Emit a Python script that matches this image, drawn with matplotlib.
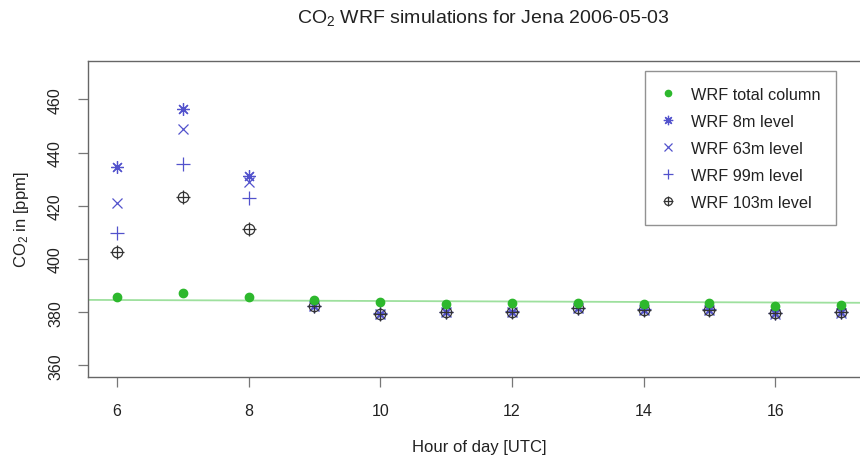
import matplotlib
matplotlib.use("Agg")
import matplotlib.pyplot as plt
from matplotlib.legend_handler import HandlerTuple

plt.rcParams["font.family"] = ["Liberation Sans", "DejaVu Sans"]
plt.rcParams["mathtext.default"] = "regular"

hours = [6, 7, 8, 9, 10, 11, 12, 13, 14, 15, 16, 17]
total_column = [385.8, 387.1, 385.8, 384.6, 383.9, 383.1, 383.3, 383.6, 383.0, 383.3, 382.3, 382.5]
level_8m = [434.4, 456.3, 431.3, 382.2, 379.4, 380.1, 380.2, 381.6, 380.9, 380.9, 379.5, 379.9]
level_63m = [421.0, 449.0, 429.0, 382.3, 379.3, 380.0, 380.1, 381.5, 380.8, 380.8, 379.4, 379.8]
level_99m = [409.6, 435.7, 422.8, 382.4, 379.5, 380.2, 380.3, 381.7, 381.0, 381.0, 379.6, 380.0]
level_103m = [402.6, 423.4, 411.4, 382.3, 379.4, 380.1, 380.2, 381.6, 380.9, 380.9, 379.5, 379.9]

# green reference line (at the plot edges)
line_hours = [5.56, 17.44]
line_values = [384.6, 383.5]

BLUE = "#5252cc"
GREEN = "#2db82d"


def main():
    fig = plt.figure(figsize=(8.6, 4.64), dpi=100)
    ax = fig.add_axes([0.1023, 0.1853, 0.9093, 0.6809])

    ax.plot(line_hours, line_values, color="#9ee09e", linewidth=1.3, zorder=1)

    h_tot, = ax.plot(hours, total_column, "o", color=GREEN, ms=6, zorder=3, linestyle="none")
    h_8, = ax.plot(hours, level_8m, marker=(8, 2, 0), color=BLUE, ms=9, mew=0.9, linestyle="none")
    h_63, = ax.plot(hours, level_63m, "x", color=BLUE, ms=7, mew=0.9, linestyle="none")
    h_99, = ax.plot(hours, level_99m, "+", color=BLUE, ms=10, mew=0.9, linestyle="none")
    h_103a, = ax.plot(hours, level_103m, "o", mfc="none", mec="#333333", ms=7.5, mew=0.9, linestyle="none")
    h_103b, = ax.plot(hours, level_103m, "+", color="#333333", ms=10, mew=0.9, linestyle="none")

    ax.set_xlim(5.56, 17.44)
    ax.set_ylim(355.6, 474.4)
    ax.set_xticks([6, 8, 10, 12, 14, 16])
    ax.set_yticks([360, 380, 400, 420, 440, 460])
    ax.tick_params(axis="both", direction="out", length=7, width=0.9, color="#777777",
                   labelsize=11.5, labelcolor="#222222")
    ax.tick_params(axis="x", pad=12)
    for lab in ax.get_yticklabels():
        lab.set_rotation(90)
        lab.set_verticalalignment("center")
    ax.tick_params(axis="y", pad=11)
    for sp in ax.spines.values():
        sp.set_color("#666666")
        sp.set_linewidth(1.0)

    ax.set_xlabel("Hour of day [UTC]", fontsize=12, color="#222222", labelpad=15)
    ax.set_ylabel("CO$_2$ in [ppm]", fontsize=12, color="#222222", labelpad=12)
    fig.text(0.562, 0.961, "CO$_2$ WRF simulations for Jena 2006-05-03", ha="center",
             va="center", fontsize=14, color="#222222")

    leg = ax.legend([h_tot, h_8, h_63, h_99, (h_103a, h_103b)],
                    ["WRF total column", "WRF 8m level", "WRF 63m level",
                     "WRF 99m level", "WRF 103m level"],
                    handler_map={tuple: HandlerTuple(ndivide=1, pad=0)},
                    loc="upper left", bbox_to_anchor=(0.712, 0.968), borderaxespad=0,
                    fontsize=11.7, frameon=True, fancybox=False, edgecolor="#777777",
                    labelspacing=0.74, handlelength=1.0, handletextpad=0.9,
                    borderpad=0.95, markerscale=0.75)
    leg.get_frame().set_linewidth(1.0)
    for t in leg.get_texts():
        t.set_color("#222222")

    fig.savefig("out.png", dpi=100)
    plt.close(fig)


if __name__ == "__main__":
    main()
